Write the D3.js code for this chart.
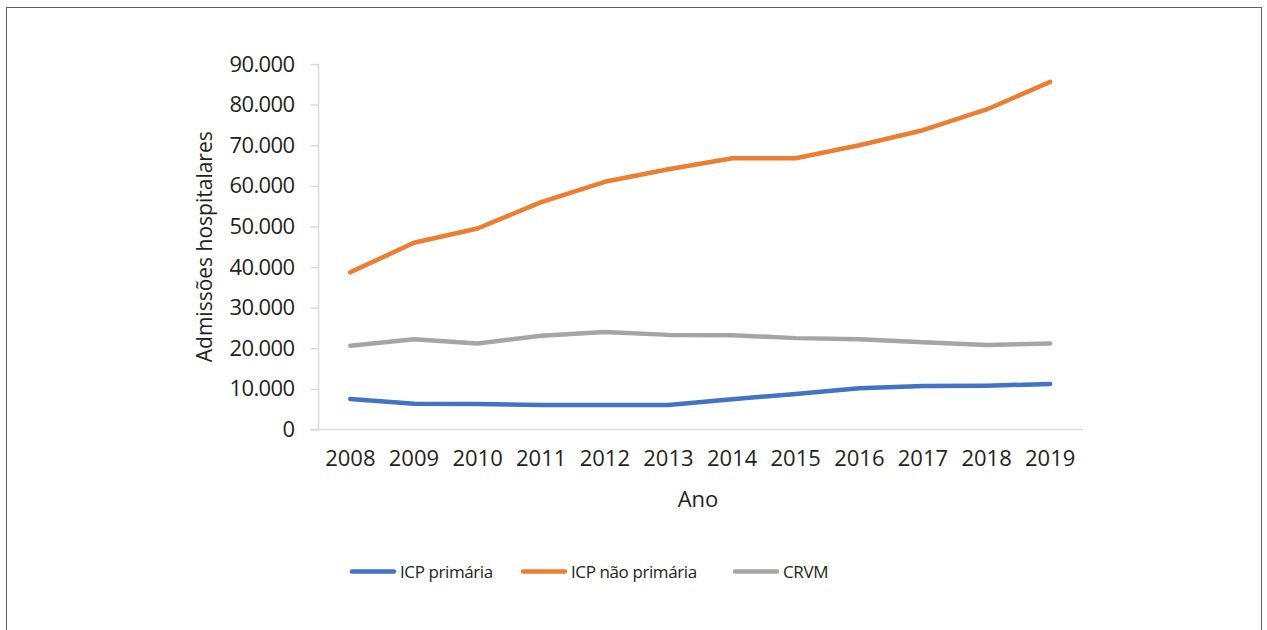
<!DOCTYPE html>
<html>
<head>
<meta charset="utf-8">
<style>
  body { margin: 0; background: #fff; }
  svg text { font-family: "Open Sans", sans-serif; fill: #231f20; }
</style>
</head>
<body>
<svg id="chart" width="1267" height="630"></svg>
<script src="https://d3js.org/d3.v7.min.js"></script>
<script>

var anos = ["2008", "2009", "2010", "2011", "2012", "2013", "2014", "2015", "2016", "2017", "2018", "2019"];
var icpPrimaria = [7500, 6350, 6300, 6050, 6050, 6050, 7450, 8750, 10150, 10700, 10800, 11200];
var icpNaoPrimaria = [38700, 46000, 49500, 56000, 61000, 64100, 66800, 66800, 70000, 73700, 78800, 85600];
var crvm = [20600, 22200, 21200, 23100, 24000, 23300, 23200, 22500, 22200, 21500, 20800, 21200];
var yTicks = [0, 10000, 20000, 30000, 40000, 50000, 60000, 70000, 80000, 90000];

var series = [
  { nome: "ICP primária", valores: icpPrimaria, cor: "#4472c4" },
  { nome: "ICP não primária", valores: icpNaoPrimaria, cor: "#ed7d31" },
  { nome: "CRVM", valores: crvm, cor: "#a5a5a5" }
];

var svg = d3.select("svg#chart");

// outer frame
svg.append("rect")
    .attr("x", 6.5).attr("y", 7.5)
    .attr("width", 1255).attr("height", 640)
    .attr("fill", "none")
    .attr("stroke", "#606060")
    .attr("stroke-width", 1);

var x = d3.scaleBand()
    .domain(anos)
    .range([318.5, 1082]);

var y = d3.scaleLinear()
    .domain([0, 90000])
    .range([429.5, 64]);

var fmt = function(d) { return d3.format(",")(d).replace(/,/g, "."); };

// y axis
var yAxis = svg.append("g")
    .attr("transform", "translate(318.5,0)")
    .call(d3.axisLeft(y).tickValues(yTicks).tickSize(8).tickPadding(16).tickFormat(fmt));
yAxis.select(".domain").attr("stroke", "#d9d9d9").attr("stroke-width", 1.5)
    .attr("d", "M0," + y(90000) + "V" + y(0));
yAxis.selectAll(".tick line").attr("stroke", "#d9d9d9").attr("stroke-width", 1.5);
yAxis.selectAll(".tick text")
    .style("font-size", "22px")
    .style("letter-spacing", "-0.6px")
    .attr("fill", "#231f20");

// x axis
var xAxis = svg.append("g")
    .attr("transform", "translate(0,429.5)")
    .call(d3.axisBottom(x).tickSize(0).tickPadding(21));
xAxis.select(".domain").attr("stroke", "#d9d9d9").attr("stroke-width", 1.5)
    .attr("d", "M311,0H1083");
xAxis.selectAll(".tick text")
    .style("font-size", "22px")
    .attr("fill", "#231f20");

// axis titles
svg.append("text")
    .attr("transform", "translate(212," + ((y(0) + y(90000)) / 2) + ") rotate(-90)")
    .attr("text-anchor", "middle")
    .style("font-size", "21px")
    .text("Admissões hospitalares");

svg.append("text")
    .attr("x", 698).attr("y", 507)
    .attr("text-anchor", "middle")
    .style("font-size", "22px")
    .text("Ano");

// lines
var line = d3.line()
    .x(function(d, i) { return x(anos[i]) + x.bandwidth() / 2; })
    .y(function(d) { return y(d); });

svg.selectAll("path.serie")
    .data(series)
  .enter().append("path")
    .attr("class", "serie")
    .attr("fill", "none")
    .attr("stroke", function(d) { return d.cor; })
    .attr("stroke-width", 4.5)
    .attr("stroke-linejoin", "round")
    .attr("stroke-linecap", "round")
    .attr("d", function(d) { return line(d.valores); });

// legend
var legendX = [352, 523, 735];
var leg = svg.selectAll("g.legenda")
    .data(series)
  .enter().append("g")
    .attr("class", "legenda")
    .attr("transform", function(d, i) { return "translate(" + legendX[i] + ",571.5)"; });
leg.append("line")
    .attr("x1", 0).attr("x2", 42)
    .attr("stroke", function(d) { return d.cor; })
    .attr("stroke-width", 4.5)
    .attr("stroke-linecap", "round");
leg.append("text")
    .attr("x", 48).attr("y", 6.5)
    .style("font-size", "17px")
    .style("letter-spacing", "-0.4px")
    .text(function(d) { return d.nome; });

</script>
</body>
</html>
